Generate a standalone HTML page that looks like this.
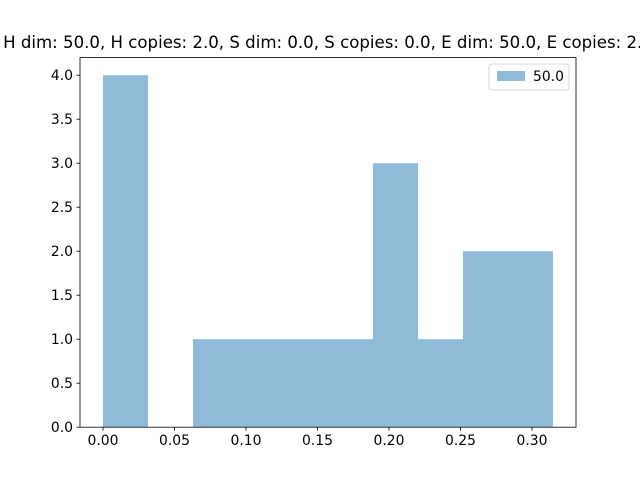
<!DOCTYPE html>
<html><head><meta charset="utf-8"><style>
body{margin:0;background:#fff;}
svg text{font-family:"DejaVu Sans","Liberation Sans",sans-serif;fill:#000;}
</style></head><body>
<svg id="chart" width="640" height="480" xmlns="http://www.w3.org/2000/svg">
<rect width="640" height="480" fill="#fff"/>
<text x="328" y="48" font-size="16.6" text-anchor="middle">H dim: 50.0, H copies: 2.0, S dim: 0.0, S copies: 0.0, E dim: 50.0, E copies: 2.0</text>
<g id="bars"></g>
<g id="xticks"></g>
<g id="yticks"></g>
<rect x="80" y="57.6" width="496" height="369.6" fill="none" stroke="#000" stroke-width="0.8"/>
<g>
<rect x="489" y="64" width="80" height="26" rx="3" fill="#fff" stroke="#ccc" stroke-width="0.8"/>
<rect x="497" y="71" width="28" height="10" fill="#8fbbd9"/>
<text x="533" y="81" font-size="13.9">50.0</text>
</g>
</svg>
<script>
const binStart = 0;
const binWidth = 0.03147;
const counts = [4, 0, 1, 1, 1, 1, 3, 1, 2, 2];
const xTickLabels = ["0.00","0.05","0.10","0.15","0.20","0.25","0.30"];
const yTickLabels = ["0.0","0.5","1.0","1.5","2.0","2.5","3.0","3.5","4.0"];
const NS = "http://www.w3.org/2000/svg";
const xMin = -0.01608, xMax = 0.3308, yMin = 0, yMax = 4.2;
const L = 80, R = 576, T = 57.6, B = 427.2;
function sx(v){return L + (v - xMin) / (xMax - xMin) * (R - L);}
function sy(v){return B - (v - yMin) / (yMax - yMin) * (B - T);}
const bars = document.getElementById('bars');
counts.forEach((c, i) => {
  if (c <= 0) return;
  const x0 = sx(binStart + i * binWidth), x1 = sx(binStart + (i + 1) * binWidth);
  const r = document.createElementNS(NS, 'rect');
  r.setAttribute('x', x0); r.setAttribute('width', x1 - x0);
  r.setAttribute('y', sy(c)); r.setAttribute('height', sy(0) - sy(c));
  r.setAttribute('fill', '#8fbbd9');
  
  
  bars.appendChild(r);
});
const xt = document.getElementById('xticks');
xTickLabels.forEach(lbl => {
  const x = sx(parseFloat(lbl));
  const l = document.createElementNS(NS, 'line');
  l.setAttribute('x1', x); l.setAttribute('x2', x); l.setAttribute('y1', B); l.setAttribute('y2', B + 3.5);
  l.setAttribute('stroke', '#000'); l.setAttribute('stroke-width', '0.8');
  
  
  xt.appendChild(l);
  const t = document.createElementNS(NS, 'text');
  t.setAttribute('x', x); t.setAttribute('y', B + 18); t.setAttribute('font-size', '13.9');
  t.setAttribute('text-anchor', 'middle'); t.textContent = lbl;
  
  
  xt.appendChild(t);
});
const yt = document.getElementById('yticks');
yTickLabels.forEach(lbl => {
  const y = sy(parseFloat(lbl));
  const l = document.createElementNS(NS, 'line');
  l.setAttribute('x1', L - 3.5); l.setAttribute('x2', L); l.setAttribute('y1', y); l.setAttribute('y2', y);
  l.setAttribute('stroke', '#000'); l.setAttribute('stroke-width', '0.8');
  
  
  yt.appendChild(l);
  const t = document.createElementNS(NS, 'text');
  t.setAttribute('x', L - 7); t.setAttribute('y', y + 5); t.setAttribute('font-size', '13.9');
  t.setAttribute('text-anchor', 'end'); t.textContent = lbl;
  
  
  yt.appendChild(t);
});
</script>
</body></html>
